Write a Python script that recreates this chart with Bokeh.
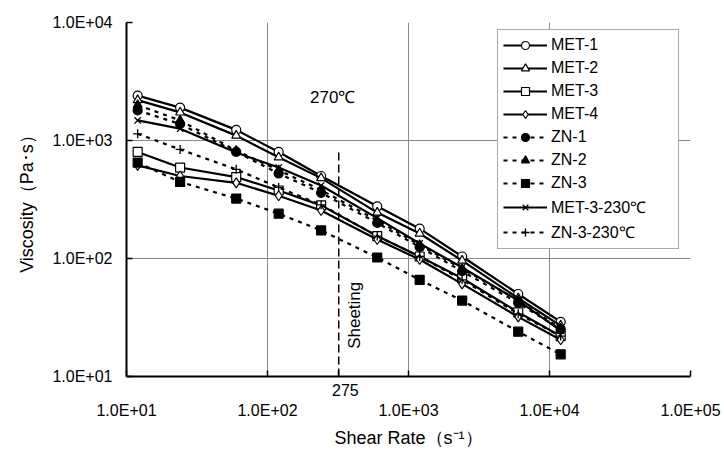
import math
from bokeh.plotting import figure
from bokeh.models import FixedTicker, Label, Range1d
from bokeh.embed import file_html
from bokeh.resources import INLINE

# ---- data ----
shear_rate = [12, 24, 60, 120, 240, 600, 1200, 2400, 6000, 12000]

met1 = [2400, 1900, 1230, 800, 500, 277, 179, 104, 50, 29]
met2 = [2200, 1730, 1100, 720, 480, 245, 163, 96, 46, 27]
met3 = [800, 590, 490, 377, 282, 155, 104, 68, 35, 22]
met4 = [615, 500, 438, 340, 255, 145, 98, 61, 32, 20.5]
zn1 = [1800, 1380, 800, 525, 360, 200, 125, 78, 42, 25]
zn2 = [2000, 1480, 820, 560, 380, 210, 130, 82, 44, 25.5]
zn3 = [650, 446, 322, 240, 173, 102, 66, 44, 24, 15.4]
met3_230 = [1480, 1260, 790, 590, 415, 220, 134, 84, 44, 24.5]
zn3_230 = [1140, 840, 570, 400, 285, 155, 104, 66, 34, 22]

x_ticks = [10, 100, 1000, 10000, 100000]
x_tick_labels = ["1.0E+01", "1.0E+02", "1.0E+03", "1.0E+04", "1.0E+05"]
y_ticks = [10, 100, 1000, 10000]
y_tick_labels = ["1.0E+01", "1.0E+02", "1.0E+03", "1.0E+04"]

sheeting_x = 320          # position of the dashed "Sheeting" line (as drawn)
sheeting_top = 820
sheeting_label = "275"

FONT = "Liberation Sans"
NBSP = "\u00a0"

p = figure(width=724, height=451, x_axis_type="log", y_axis_type="log",
           x_range=Range1d(10, 100000), y_range=Range1d(10, 10000),
           output_backend="svg", toolbar_location=None,
           min_border_left=126, min_border_right=34,
           min_border_top=22, min_border_bottom=75)
p.outline_line_color = None
p.background_fill_color = "white"
p.border_fill_color = "white"

# axes
for ax in (p.xaxis[0], p.yaxis[0]):
    ax.axis_line_color = "black"
    ax.axis_line_width = 2
    ax.major_tick_in = 6
    ax.major_tick_out = 0
    ax.minor_tick_line_color = None
    ax.major_tick_line_color = "black"
    ax.major_tick_line_width = 1.5
    ax.major_label_text_font = FONT
    ax.major_label_text_font_size = "16px"
    ax.major_label_text_color = "black"
    ax.axis_label_text_font = FONT
    ax.axis_label_text_font_size = "18px"
    ax.axis_label_text_font_style = "normal"
    ax.axis_label_text_color = "black"

p.xaxis.ticker = FixedTicker(ticks=x_ticks + [sheeting_x])
p.yaxis.ticker = FixedTicker(ticks=y_ticks)
x_over = {t: "\n" + l for t, l in zip(x_ticks, x_tick_labels)}
x_over[sheeting_x] = NBSP * 3 + sheeting_label
p.xaxis.major_label_overrides = x_over
p.yaxis.major_label_overrides = {t: l for t, l in zip(y_ticks, y_tick_labels)}
p.xaxis.major_label_standoff = 5
p.yaxis.major_label_standoff = 14
p.xaxis.axis_label = "Shear Rate（s⁻¹）"
p.yaxis.axis_label = "Viscosity（Pa･s）"
p.xaxis.axis_label_standoff = 6
p.yaxis.axis_label_standoff = 12

# grid
p.xgrid.ticker = FixedTicker(ticks=[100, 1000, 10000])
p.ygrid.ticker = FixedTicker(ticks=[100, 1000])
p.xgrid.grid_line_color = "#8a8a8a"
p.ygrid.grid_line_color = "#8a8a8a"
p.xgrid.grid_line_width = 1
p.ygrid.grid_line_width = 1

# series
series = [
    ("MET-1", met1, "solid", "circle", "white"),
    ("MET-2", met2, "solid", "triangle", "white"),
    ("MET-3", met3, "solid", "square", "white"),
    ("MET-4", met4, "solid", "diamond", "white"),
    ("ZN-1", zn1, "4 5", "circle", "black"),
    ("ZN-2", zn2, "4 5", "triangle", "black"),
    ("ZN-3", zn3, "4 5", "square", "black"),
    ("MET-3-230℃", met3_230, "solid", "x", "white"),
    ("ZN-3-230℃", zn3_230, "4 5", "cross", "white"),
]
for name, ys, dash, marker, fill in series:
    p.line(shear_rate, ys, line_color="black", line_width=2.2, line_dash=dash,
           legend_label=name)
    size = 10 if marker in ("diamond",) else 9
    if marker in ("x", "cross"):
        p.scatter(shear_rate, ys, marker=marker, size=9, line_color="black",
                  line_width=1.3, legend_label=name)
    else:
        p.scatter(shear_rate, ys, marker=marker, size=size, fill_color=fill,
                  line_color="black", line_width=1.2, legend_label=name)

# sheeting line
p.line([sheeting_x, sheeting_x], [10, sheeting_top], line_color="black",
       line_width=1.5, line_dash="8 4")

p.add_layout(Label(x=sheeting_x * 1.29, y=33, text="Sheeting", angle=math.pi / 2,
                   text_align="center", text_baseline="middle",
                   text_font=FONT, text_font_size="17px", text_color="black"))
p.add_layout(Label(x=290, y=2300, text="270℃",
                   text_align="center", text_baseline="middle",
                   text_font=FONT, text_font_size="17px", text_color="black"))

# legend
lg = p.legend[0]
lg.location = (371, 127)
lg.border_line_color = "#555555"
lg.border_line_width = 1
lg.background_fill_color = "white"
lg.background_fill_alpha = 1
lg.padding = 5
lg.margin = 0
lg.spacing = 3
lg.glyph_height = 20
lg.label_height = 20
lg.glyph_width = 44
lg.label_width = 122
lg.label_standoff = 4
lg.label_text_font = FONT
lg.label_text_font_size = "16px"
lg.label_text_color = "black"

open("out.html", "w").write(file_html(p, INLINE))
